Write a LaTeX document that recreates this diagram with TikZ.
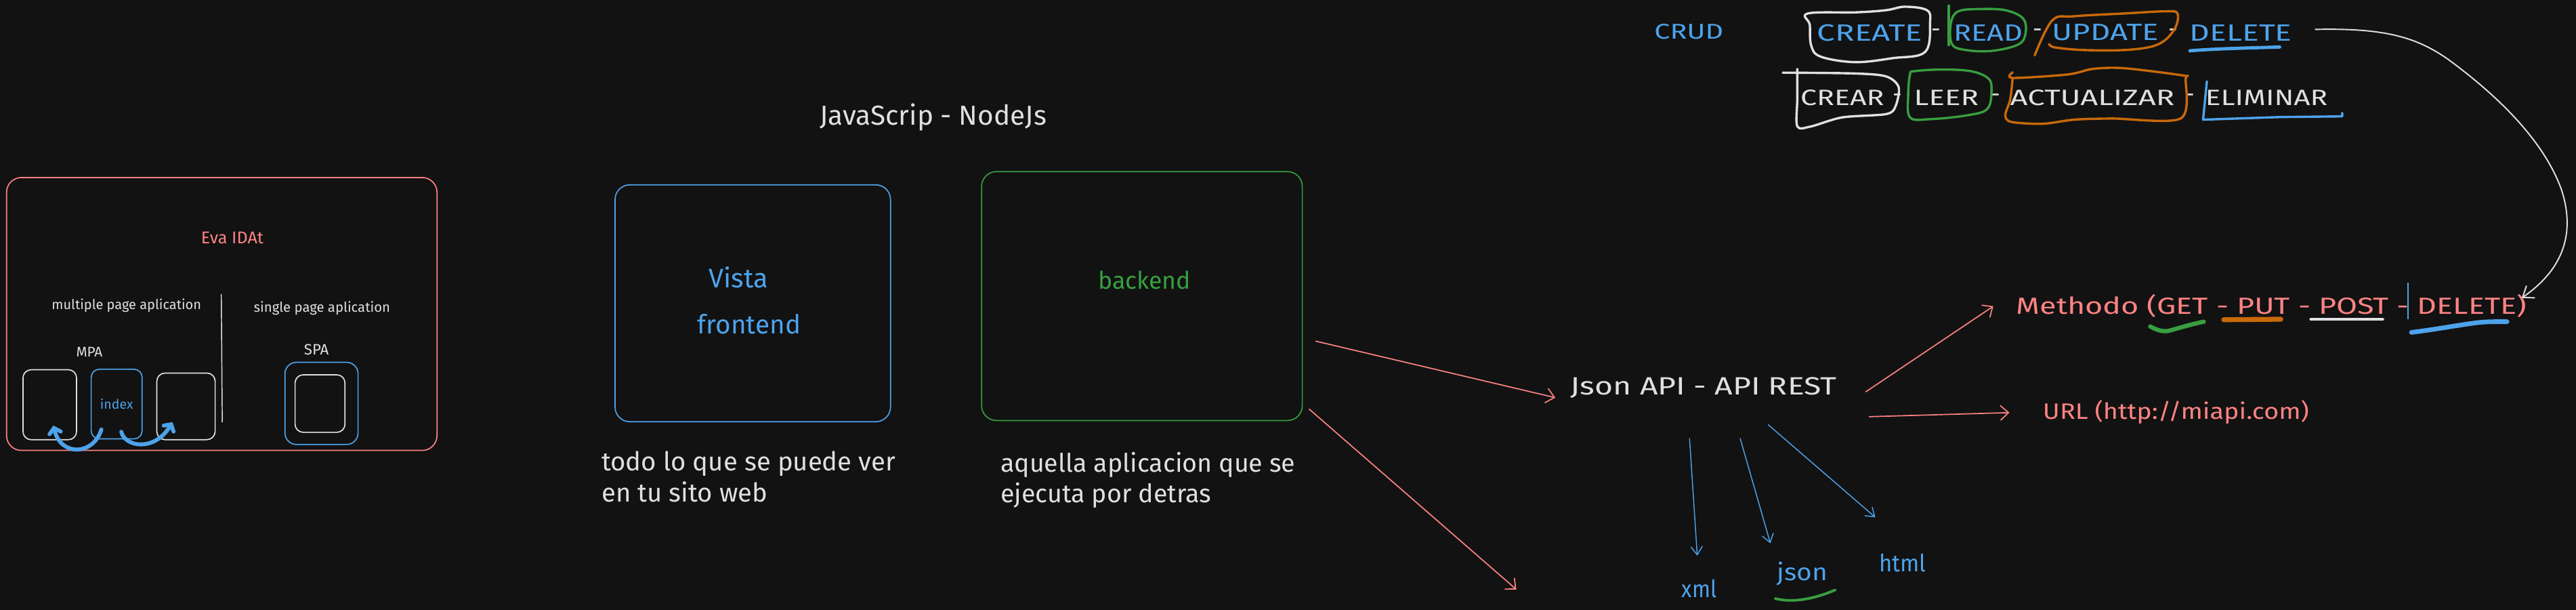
\documentclass[tikz,border=0pt]{standalone}
\usepackage{fontspec}
\usepackage{graphicx}
\setmainfont{Fira Sans}
\usetikzlibrary{arrows.meta,calc}
\definecolor{bgc}{RGB}{18,18,18}
\definecolor{cwhite}{RGB}{224,224,224}
\definecolor{cred}{RGB}{255,131,131}
\definecolor{cblue}{RGB}{77,163,235}
\definecolor{cgreen}{RGB}{56,158,64}
\definecolor{corange}{RGB}{200,105,10}
\newcommand{\fitto}[2]{\resizebox{#1pt}{!}{#2}}
% width #1, font size #2 (height kept), text #3
\newcommand{\fitw}[3]{{\fontsize{#2}{#2}\selectfont\resizebox{#1pt}{\height}{#3}}}
\begin{document}
\begin{tikzpicture}[x=1pt,y=-1pt,
  txt/.style={inner sep=0pt, outer sep=0pt, text=cwhite, font=\fontsize{12}{14}\selectfont},
  rbox/.style={draw, line width=0.7pt, rounded corners=6pt, inner sep=0pt},
  redarr/.style={draw=cred, line width=0.7pt, -{Straight Barb[length=5pt,width=9pt]}},
  bluearr/.style={draw=cblue, line width=0.6pt, -{Straight Barb[length=5pt,width=7pt]}},
  thickblue/.style={draw=cblue, line width=2.4pt, line cap=round, -{Straight Barb[length=3pt,width=7pt,line cap=round]}},
  scrib/.style={line width=1.4pt, line cap=round, line join=round},
  hilite/.style={line width=2.6pt, line cap=round},
]
\fill[bgc] (0,0) rectangle (1568,371);
\useasboundingbox (0,0) rectangle (1568,371);

% ---------- Eva IDAt block ----------
\node[rbox, draw=cred, rounded corners=9pt, minimum width=262pt, minimum height=166pt] (eva) at (135,191) {};
\node[txt, text=cred] (evat) at (141.4,144.8) {\fitto{38}{Eva IDAt}};
\node[txt] (mpat) at (77,186) {\fitto{91}{multiple page aplication}};
\node[txt] (spat) at (196,187.7) {\fitto{83}{single page aplication}};
\draw[cwhite, line width=0.6pt] (134.7,179) -- (135.3,256.8);
\node[txt] (mpa) at (54.4,214) {\fitto{16}{MPA}};
\node[txt] (spa) at (192.6,212.8) {\fitto{15}{SPA}};
\node[rbox, draw=cwhite, rounded corners=5pt, minimum width=32.6pt, minimum height=42.6pt] (b1) at (30.3,246.2) {};
\node[rbox, draw=cblue, rounded corners=5pt, minimum width=31pt, minimum height=42.4pt] (idx) at (71,245.8) {};
\node[txt, text=cblue] (idxt) at (71,245.8) {\fitto{20}{index}};
\node[rbox, draw=cwhite, rounded corners=5pt, minimum width=35.5pt, minimum height=40.5pt] (b3) at (113.2,247.2) {};
\node[rbox, draw=cblue, rounded corners=7pt, minimum width=44.5pt, minimum height=50pt] (spo) at (195.7,245.4) {};
\node[rbox, draw=cwhite, rounded corners=5pt, minimum width=30.4pt, minimum height=35pt] (spi) at (194.8,245.5) {};
\draw[thickblue] ($(idx.south)+(-9.3,-6.1)$) .. controls (57,277) and (37,278) .. ($(b1.south)+(2.2,-9)$);
\draw[thickblue] ($(idx.south)+(2.8,-4.7)$) .. controls (76,272) and (94,275) .. ($(b3.south)+(-8.2,-11)$);

% ---------- frontend / backend ----------
\node[txt] (js) at (568,71.5) {\fitto{138}{JavaScrip - NodeJs}};
\node[rbox, draw=cblue, rounded corners=9pt, minimum width=167.7pt, minimum height=144.1pt] (front) at (458.2,184.5) {};
\node[txt, text=cblue] (vista) at (449.5,168.8) {\fitto{36}{Vista}};
\node[txt, text=cblue] (frontt) at (456,197) {\fitto{62.8}{frontend}};
\node[rbox, draw=cgreen, rounded corners=9pt, minimum width=195.2pt, minimum height=151.4pt] (back) at (695.1,180.1) {};
\node[txt, text=cgreen] (backt) at (696.7,170.5) {\fitto{56.4}{backend}};
\node[txt, anchor=west, align=left, font=\fontsize{15.8}{18.8}\selectfont] (todo) at (366.2,290) {todo lo que se puede ver\\en tu sito web};
\node[txt, anchor=west, align=left, font=\fontsize{15.5}{18.8}\selectfont] (aque) at (609,292) {aquella aplicacion que se\\ejecuta por detras};

% ---------- API ----------
\node[txt] (json) at (1037,235.7) {\fitw{162}{15.2}{Json API - API REST}};
\coordinate (down) at (923,358.6);
\draw[redarr] ($(back.east)+(7.7,27.4)$) -- ($(json.west)+(-9.3,6.2)$);
\draw[redarr] ($(back.south east)+(3.7,-7.4)$) -- (down);
\node[txt, text=cred, anchor=west] (meth) at (1227.3,186.3) {\fitw{310.6}{14.2}{Methodo (GET - PUT - POST - DELETE)}};
\node[txt, text=cred] (url) at (1324.5,250.7) {\fitw{162}{13.6}{URL (http://miapi.com)}};
\draw[redarr] ($(json.east)+(17.6,2.7)$) -- ($(meth.west)+(-14,0)$);
\draw[redarr] ($(json.east)+(19.6,17.8)$) -- ($(url.west)+(-20.4,0.3)$);
\node[txt, text=cblue] (xml) at (1034.3,358) {\fitw{21.3}{14.5}{xml}};
\node[txt, text=cblue] (jsn) at (1097,349) {\fitw{30.8}{14.5}{json}};
\node[txt, text=cblue] (html) at (1158,342.5) {\fitw{28.5}{14.5}{html}};
\draw[bluearr] ($(json)+(-8.6,30.9)$) -- ($(xml)+(-1.2,-20)$);
\draw[bluearr] ($(json)+(22.2,30.9)$) -- ($(jsn)+(-19.4,-18.5)$);
\draw[bluearr] ($(json)+(39.2,22.6)$) -- ($(html)+(-16.5,-27.8)$);
\draw[cgreen, line width=1.6pt, line cap=round] (1080.5,364.1) .. controls (1092,367) and (1105,364) .. (1117.1,358.9);

% method underlines
\draw[cgreen, hilite, line join=round] (1308.8,198.6) .. controls (1314,201.5) and (1318,202) .. (1321,201) .. controls (1328,199) and (1335,197) .. (1341.4,195.7);
\draw[corange, line width=3pt, line cap=round] (1353.6,194.5) -- (1388.3,194.2);
\draw[cwhite, line width=1.8pt, line cap=round] (1406.6,194.2) -- (1450.3,194.2);
\draw[cblue, line width=2.8pt, line cap=round] (1467.8,202.2) .. controls (1485,200) and (1495,198) .. (1506.9,196.4) .. controls (1514,195.5) and (1520,195.7) .. (1526,195.7);
\draw[cblue, line width=0.8pt] (1465.7,171.8) -- (1465.7,194.2);

% ---------- CRUD ----------
\node[txt, text=cblue] (crud) at (1028,19.2) {\fitw{42}{13}{CRUD}};
\node[txt, text=cblue] (create) at (1138.2,19.9) {\fitw{64}{14.3}{CREATE}};
\node[txt, text=cblue] (read) at (1210.3,19.9) {\fitw{42}{14.3}{READ}};
\node[txt, text=cblue] (update) at (1281.6,19.9) {\fitw{64.8}{14.3}{UPDATE}};
\node[txt, text=cblue] (delete) at (1364,19.9) {\fitw{62.2}{14.3}{DELETE}};
\node[txt, font=\fontsize{14}{16}\selectfont] (d1) at (1178.6,19.9) {-};
\node[txt, font=\fontsize{14}{16}\selectfont] (d2) at (1240.4,19.9) {-};
\node[txt, font=\fontsize{14}{16}\selectfont] (d3) at (1322.7,19.9) {-};
\node[txt] (crear) at (1121.4,59.4) {\fitw{51}{13.5}{CREAR}};
\node[txt] (leer) at (1184.7,59.4) {\fitw{39.3}{13.5}{LEER}};
\node[txt] (actu) at (1273.6,59.4) {\fitw{100}{13.5}{ACTUALIZAR}};
\node[txt] (elim) at (1379.6,59.4) {\fitw{74.4}{13.5}{ELIMINAR}};
\node[txt, font=\fontsize{14}{16}\selectfont] (e1) at (1155,59.4) {-};
\node[txt, font=\fontsize{14}{16}\selectfont] (e2) at (1214.8,59.4) {-};
\node[txt, font=\fontsize{14}{16}\selectfont] (e3) at (1333,59.4) {-};

% scribbles row 1
\draw[cwhite, scrib] plot[smooth cycle, tension=0.6] coordinates {(1100.4,8.2) (1130,7.5) (1148.1,6.2) (1159.5,4.1) (1172.9,6.2) (1174.8,13.7) (1171.8,31.6) (1151.9,35.4) (1129,37.8) (1108.1,34.4) (1102.4,27.5) (1101.6,15.1)};
\draw[cgreen, scrib] (1186.2,3.4) -- (1186.2,27.5);
\draw[cgreen, scrib] plot[smooth cycle, tension=0.6] coordinates {(1192,6.9) (1205.3,5.5) (1220.6,6.2) (1231.2,11) (1233.1,19.2) (1229,26.8) (1213,30.9) (1197,30.5) (1188.1,26.8) (1187.5,14)};
\draw[corange, scrib] plot[smooth, tension=0.6] coordinates {(1238.5,33.7) (1249.2,12.4) (1262.5,9.9) (1293,8.2) (1317.8,6.9) (1325.4,8.2) (1323.5,17.9) (1314,26.8) (1296.8,30.2) (1270.1,30.5) (1251.1,28.9) (1247.3,26.8)};
\draw[cblue, line width=2pt, line cap=round] (1333,30.9) .. controls (1350,29.5) and (1370,29.2) .. (1387.6,28.6);

% scribbles row 2
\draw[cwhite, scrib] plot[smooth, tension=0.5] coordinates {(1085.2,44.2) (1129,44.7) (1148.1,46.5) (1155.7,53) (1153.8,64.6) (1148.1,69.4) (1121.4,71.4) (1102.4,76.9) (1094,76.9) (1094,60) (1094,41.9)};
\draw[cgreen, scrib] plot[smooth cycle, tension=0.6] coordinates {(1165.3,43.3) (1182.4,42.3) (1199.6,43.3) (1209.9,47.4) (1212.2,53.6) (1209.9,66) (1197.7,70.1) (1174.8,72.5) (1162.6,71.4) (1161.5,57.7) (1162.6,45.3)};
\draw[corange, scrib] plot[smooth, tension=0.5] coordinates {(1225.1,44) (1225.1,47.4) (1258.7,45.3) (1274,41.9) (1293,41.5) (1329.2,46) (1330.4,48.1) (1327.3,72.1) (1285.4,72.1) (1262.5,72.8) (1243.4,75.3) (1224.4,74.2) (1220.6,70.1) (1223.6,60.5) (1225.1,47.4)};
\draw[cblue, scrib] (1343.3,49.5) -- (1341,72.8) -- (1388.3,71.2) -- (1425.7,70.8) -- (1425.7,68.7);

% CRUD link to DELETE of method
\coordinate (mtip) at ($(meth.north east)+(-3,2)$);
\draw[cwhite, line width=0.8pt, -{Straight Barb[length=6pt,width=9pt]}] ($(delete.east)+(14,-2)$) .. controls (1450,17) and (1470,22) .. (1490,36) .. controls (1520,58) and (1548,85) .. (1559,115) .. controls (1568,142) and (1560,164) .. (mtip);
\end{tikzpicture}
\end{document}
